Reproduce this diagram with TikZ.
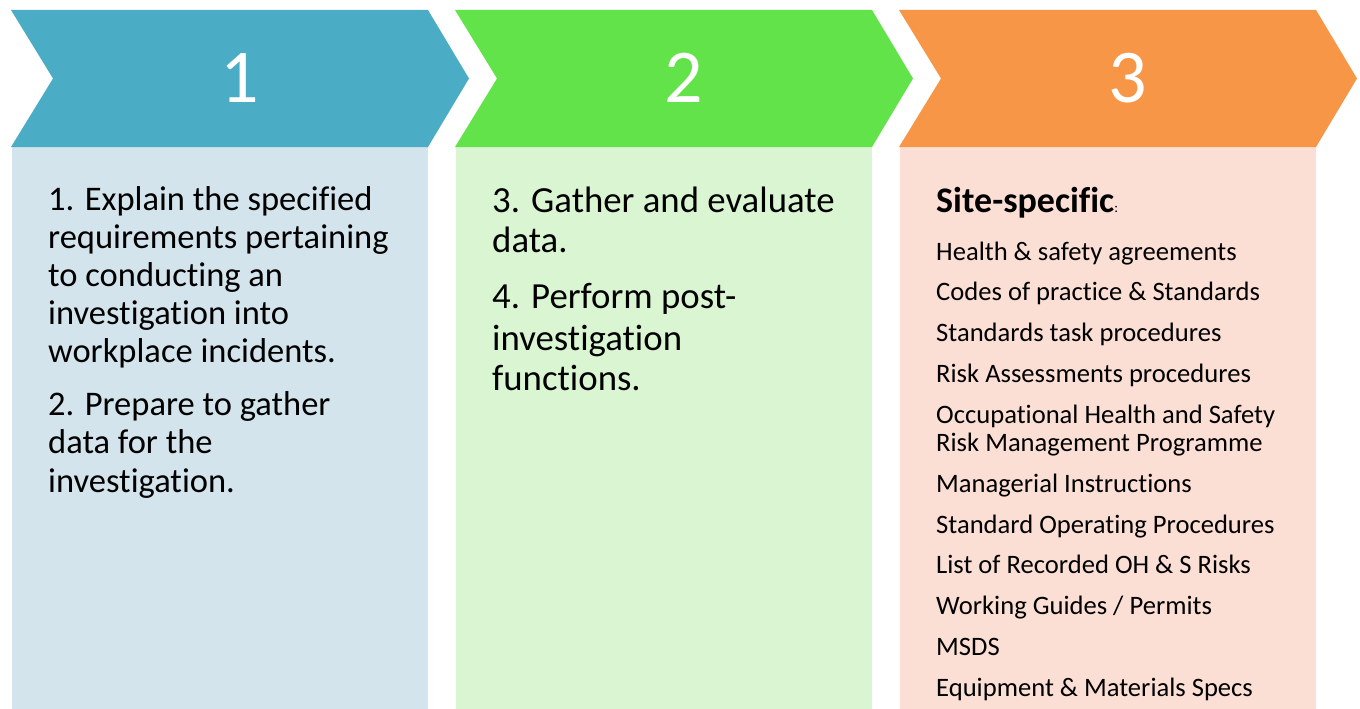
\documentclass[tikz,border=0pt]{standalone}
\usepackage{fontspec}
\setmainfont{Carlito}[Ligatures=NoCommon]
\definecolor{tealc}{HTML}{4BACC6}
\definecolor{greenc}{HTML}{62E34A}
\definecolor{orangec}{HTML}{F79646}
\definecolor{tealbox}{HTML}{D3E4EC}
\definecolor{greenbox}{HTML}{DAF5D1}
\definecolor{orangebox}{HTML}{FBDFD4}
\begin{document}
\begin{tikzpicture}[x=1pt,y=-1pt,
  numtxt/.style={text=white,font=\fontsize{76}{80}\selectfont,inner sep=0pt,anchor=base},
  txta/.style={font=\fontsize{34.5}{38}\selectfont,inner sep=0pt,anchor=base west},
  txtb/.style={font=\fontsize{36.8}{41}\selectfont,inner sep=0pt,anchor=base west},
  txtc/.style={font=\fontsize{26.6}{29}\selectfont,inner sep=0pt,anchor=base west},
  hdr/.style={font=\fontsize{36}{40}\selectfont\bfseries,inner sep=0pt,anchor=base west}]
\useasboundingbox (0,0) rectangle (1360,709);
% boxes
\fill[tealbox] (12,147) rectangle (428,709);
\fill[greenbox] (456,147) rectangle (872,709);
\fill[orangebox] (900,147) rectangle (1316,709);
% chevrons
\fill[tealc] (11,10) -- (428,10) -- (469,78.5) -- (428,147) -- (11,147) -- (53,78.5) -- cycle;
\fill[greenc] (455,10) -- (872,10) -- (913,78.5) -- (872,147) -- (455,147) -- (497,78.5) -- cycle;
\fill[orangec] (899,10) -- (1316,10) -- (1357,78.5) -- (1316,147) -- (899,147) -- (941,78.5) -- cycle;
\node[numtxt] (n1) at (240,102) {1};
\node[numtxt] (n2) at (684,102) {2};
\node[numtxt] (n3) at (1128,102) {3};
% column 1
\node[txta] (a1) at (48,210) {1. Explain the specified};
\node[txta] (a2) at (48,248) {requirements pertaining};
\node[txta] (a3) at (48,286) {to conducting an};
\node[txta] (a4) at (48,324) {investigation into};
\node[txta] (a5) at (48,362) {workplace incidents.};
\node[txta] (a6) at (48,415) {2. Prepare to gather};
\node[txta] (a7) at (48,453) {data for the};
\node[txta] (a8) at (48,492) {investigation.};
% column 2
\node[txtb] (b1) at (492,212) {3. Gather and evaluate};
\node[txtb] (b2) at (492,252) {data.};
\node[txtb] (b3) at (492,308) {4. Perform post-};
\node[txtb] (b4) at (492,350) {investigation};
\node[txtb] (b5) at (492,390) {functions.};
% column 3
\node[hdr] (h) at (936,212) {Site-specific\fontsize{14}{16}\selectfont\mdseries :};
\node[txtc] (c1) at (936,260) {Health \& safety agreements};
\node[txtc] (c2) at (936,300.5) {Codes of practice \& Standards};
\node[txtc] (c3) at (936,341) {Standards task procedures};
\node[txtc] (c4) at (936,382) {Risk Assessments procedures};
\node[txtc] (c5) at (936,423) {Occupational Health and Safety};
\node[txtc] (c6) at (936,451.5) {Risk Management Programme};
\node[txtc] (c7) at (936,492) {Managerial Instructions};
\node[txtc] (c8) at (936,533) {Standard Operating Procedures};
\node[txtc] (c9) at (936,573.5) {List of Recorded OH \& S Risks};
\node[txtc] (c10) at (936,614) {Working Guides / Permits};
\node[txtc] (c11) at (936,655) {MSDS};
\node[txtc] (c12) at (936,696) {Equipment \& Materials Specs};
\end{tikzpicture}
\end{document}
